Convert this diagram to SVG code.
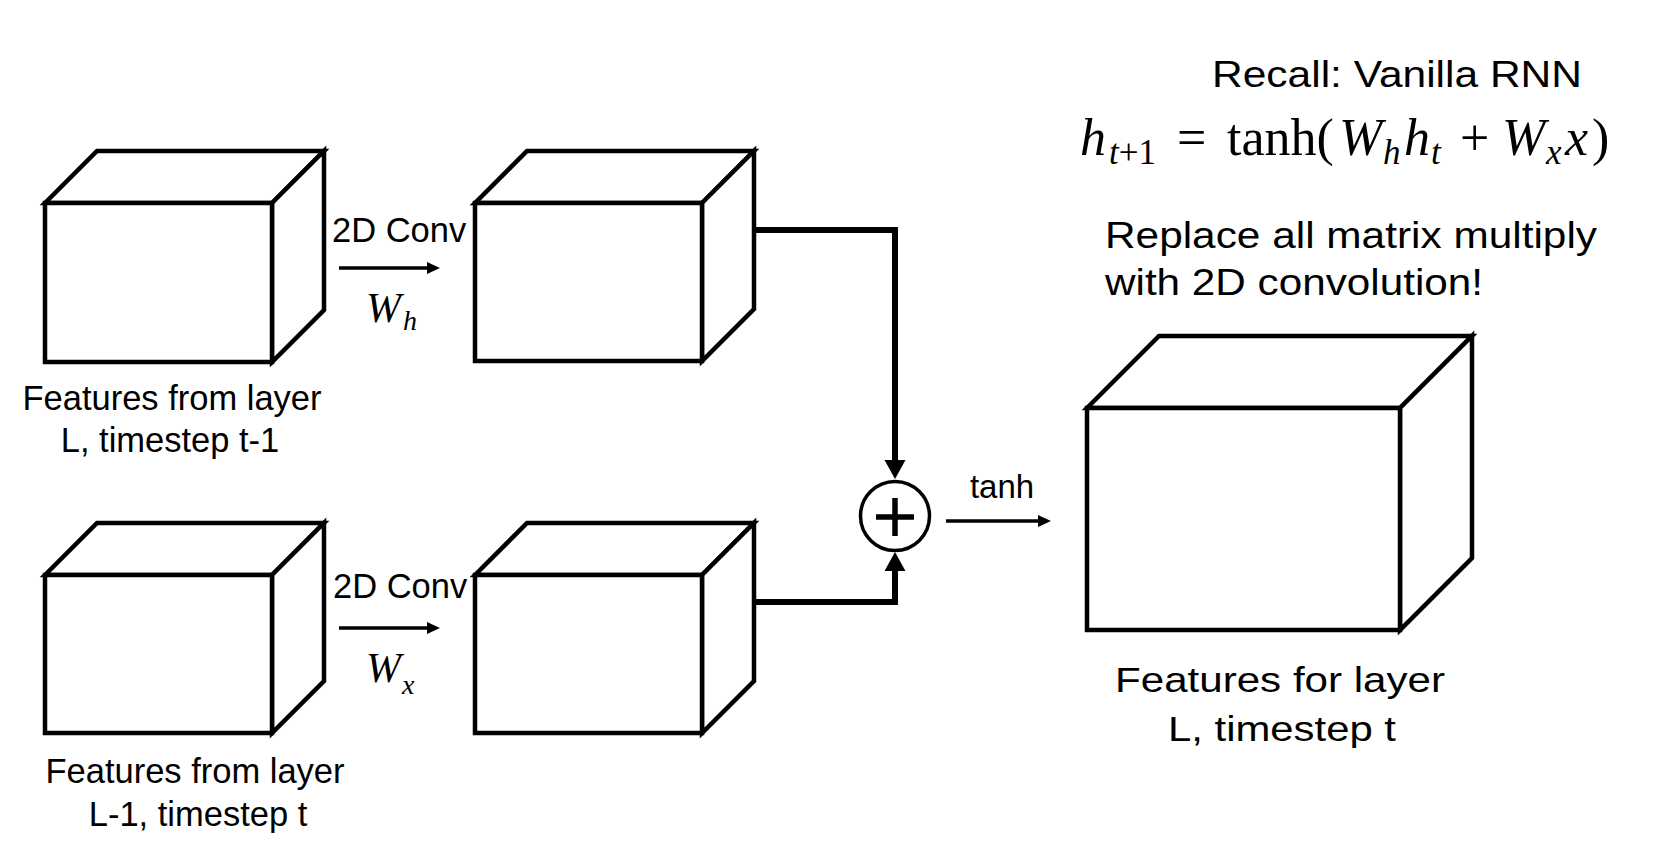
<svg xmlns="http://www.w3.org/2000/svg" width="1678" height="848" viewBox="0 0 1678 848">
<defs>
<style>
.cube{fill:#fff;stroke:#000;stroke-width:4.5;stroke-linejoin:miter}
.t{font-family:"Liberation Sans",Arial,sans-serif;fill:#000}
.m{font-family:"Liberation Serif","Times New Roman",serif;fill:#000}
.thick{fill:none;stroke:#000;stroke-width:6}
.thin{fill:none;stroke:#000;stroke-width:3.5}
</style>
<marker id="bigHead" markerUnits="userSpaceOnUse" markerWidth="24" markerHeight="24" refX="0" refY="0" viewBox="0 -12 22 24" orient="auto">
<path d="M0,-10.5 L19,0 L0,10.5 Z" fill="#000"/>
</marker>
<marker id="smallHead" markerUnits="userSpaceOnUse" markerWidth="16" markerHeight="16" refX="0" refY="0" viewBox="0 -8 14 16" orient="auto">
<path d="M0,-6 L13,0 L0,6 Z" fill="#000"/>
</marker>
</defs>
<rect width="1678" height="848" fill="#fff"/>

<g id="cube-h-prev">
<path class="cube" d="M45,203 L97,151 L324,151 L272,203 Z"/>
<path class="cube" d="M272,203 L324,151 L324,310 L272,362 Z"/>
<rect class="cube" x="45" y="203" width="227" height="159"/>
<text class="t" font-size="34.5" text-anchor="middle" x="172" y="410">Features from layer</text>
<text class="t" font-size="34.5" text-anchor="middle" x="170" y="452">L, timestep t-1</text>
</g>

<g id="cube-x">
<path class="cube" d="M45,575 L97,523 L324,523 L272,575 Z"/>
<path class="cube" d="M272,575 L324,523 L324,681 L272,733 Z"/>
<rect class="cube" x="45" y="575" width="227" height="158"/>
<text class="t" font-size="34.5" text-anchor="middle" x="195" y="783">Features from layer</text>
<text class="t" font-size="34.5" text-anchor="middle" x="198" y="826">L-1, timestep t</text>
</g>

<g id="cube-wh">
<path class="cube" d="M475,203 L527,151 L754,151 L702,203 Z"/>
<path class="cube" d="M702,203 L754,151 L754,309 L702,361 Z"/>
<rect class="cube" x="475" y="203" width="227" height="158"/>
</g>

<g id="cube-wx">
<path class="cube" d="M475,575 L527,523 L754,523 L702,575 Z"/>
<path class="cube" d="M702,575 L754,523 L754,681 L702,733 Z"/>
<rect class="cube" x="475" y="575" width="227" height="158"/>
</g>

<g id="cube-out">
<path class="cube" d="M1087,408 L1159,336 L1472,336 L1400,408 Z"/>
<path class="cube" d="M1400,408 L1472,336 L1472,558 L1400,630 Z"/>
<rect class="cube" x="1087" y="408" width="313" height="222"/>
<text class="t" font-size="35" text-anchor="middle" x="1280" y="692" textLength="330" lengthAdjust="spacingAndGlyphs">Features for layer</text>
<text class="t" font-size="35" text-anchor="middle" x="1282" y="741" textLength="228" lengthAdjust="spacingAndGlyphs">L, timestep t</text>
</g>

<g id="sum">
<circle cx="895" cy="516" r="34.5" fill="#fff" stroke="#000" stroke-width="3.5"/>
<path d="M876,517 H914 M895,498 V536" stroke="#000" stroke-width="5.5" fill="none"/>
</g>

<g id="connectors">
<path class="thin" d="M339,268 H427" marker-end="url(#smallHead)"/>
<path class="thin" d="M339,628 H427" marker-end="url(#smallHead)"/>
<path class="thick" d="M754,230 H895 V460" stroke-linejoin="miter" marker-end="url(#bigHead)"/>
<path class="thick" d="M754,602 H895 V571" stroke-linejoin="miter" marker-end="url(#bigHead)"/>
<path class="thin" stroke-width="3" d="M946,521 H1038" marker-end="url(#smallHead)"/>
</g>

<g id="labels">
<text class="t" font-size="34.5" x="332" y="242">2D Conv</text>
<text class="t" font-size="34.5" x="333" y="598">2D Conv</text>
<text class="m" font-size="42" font-style="italic"><tspan x="366" y="322">W</tspan><tspan x="403" y="330" font-size="28">h</tspan></text>
<text class="m" font-size="42" font-style="italic"><tspan x="366" y="682">W</tspan><tspan x="402" y="694" font-size="28">x</tspan></text>
<text class="t" font-size="33" text-anchor="middle" x="1002" y="498">tanh</text>
</g>

<g id="notes">
<text class="t" font-size="37" text-anchor="middle" x="1397" y="87" textLength="370" lengthAdjust="spacingAndGlyphs">Recall: Vanilla RNN</text>
<text class="m" font-size="52" y="155"><tspan x="1080" font-style="italic">h</tspan><tspan x="1109" y="164" font-size="35" font-style="italic">t</tspan><tspan y="164" font-size="35">+1</tspan><tspan x="1177" y="155">=</tspan><tspan x="1227">tanh(</tspan><tspan x="1339" font-style="italic">W</tspan><tspan x="1383" y="164" font-size="35" font-style="italic">h</tspan><tspan x="1404" y="155" font-style="italic">h</tspan><tspan x="1431" y="164" font-size="35" font-style="italic">t</tspan><tspan x="1460" y="155">+</tspan><tspan x="1502" font-style="italic">W</tspan><tspan x="1546" y="164" font-size="35" font-style="italic">x</tspan><tspan x="1565" y="155" font-style="italic">x</tspan><tspan x="1592">)</tspan></text>
<text class="t" font-size="37" x="1105" y="248" textLength="492" lengthAdjust="spacingAndGlyphs">Replace all matrix multiply</text>
<text class="t" font-size="37" x="1105" y="295" textLength="378" lengthAdjust="spacingAndGlyphs">with 2D convolution!</text>
</g>
</svg>
